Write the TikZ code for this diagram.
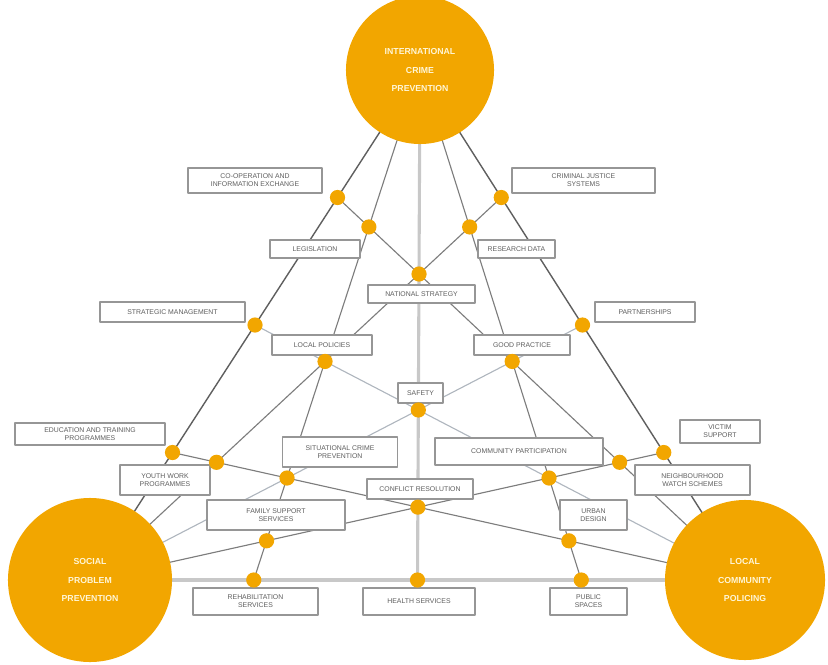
\documentclass[tikz,border=0pt]{standalone}
\usepackage{fontspec}
\setmainfont{Liberation Sans}
\usetikzlibrary{calc}
\definecolor{amber}{RGB}{242,166,0}
\definecolor{boxgray}{RGB}{150,150,150}
\definecolor{labelgray}{RGB}{95,95,95}
\definecolor{darkline}{RGB}{95,95,95}
\definecolor{midline}{RGB}{125,125,125}
\definecolor{lightline}{RGB}{175,182,190}
\definecolor{paleline}{RGB}{200,200,200}
\definecolor{hubtext}{RGB}{255,246,214}
\begin{document}
\begin{tikzpicture}[x=0.025cm,y=-0.025cm, line join=round, line cap=round,
	box/.style={draw=boxgray, line width=0.8pt, fill=white, inner sep=1pt, align=center, text=labelgray, font=\fontsize{4.9}{5.8}\selectfont},
	dot/.style={circle, fill=amber, minimum size=3.8mm, inner sep=0pt},
	hub/.style={circle, fill=amber, inner sep=0pt, text=hubtext, align=center, font=\bfseries\fontsize{6.2}{13}\selectfont},
	side/.style={draw=darkline, line width=1pt},
	cev/.style={draw=midline, line width=0.8pt},
	med/.style={draw=lightline, line width=0.8pt},
	base/.style={draw=paleline, line width=3pt}]
	\useasboundingbox (0,0) rectangle (828,664);
	% corners of the triangle
	\coordinate (T) at (420,70);
	\coordinate (L) at (90,580);
	\coordinate (R) at (745,580);
	% quarter points on the sides
	\coordinate (l1) at ($(T)!0.25!(L)$); \coordinate (l2) at ($(T)!0.5!(L)$); \coordinate (l3) at ($(T)!0.75!(L)$);
	\coordinate (r1) at ($(T)!0.25!(R)$); \coordinate (r2) at ($(T)!0.5!(R)$); \coordinate (r3) at ($(T)!0.75!(R)$);
	\coordinate (b1) at ($(L)!0.25!(R)$); \coordinate (b2) at ($(L)!0.5!(R)$); \coordinate (b3) at ($(L)!0.75!(R)$);
	% crossings inside
	\coordinate (p1) at (intersection of T--b1 and R--l1);
	\coordinate (p2) at (intersection of T--b3 and L--r1);
	\coordinate (p3) at (intersection of T--b2 and L--r1);
	\coordinate (p4) at (intersection of T--b1 and R--l2);
	\coordinate (p5) at (intersection of T--b3 and L--r2);
	\coordinate (p6) at (intersection of L--r2 and R--l2);
	\coordinate (p7) at (intersection of L--r1 and R--l3);
	\coordinate (p8) at (intersection of R--l1 and L--r3);
	\coordinate (p9) at (intersection of T--b1 and L--r2);
	\coordinate (p10) at (intersection of T--b3 and R--l2);
	\coordinate (p11) at (intersection of T--b2 and L--r3);
	\coordinate (p12) at (intersection of T--b1 and L--r3);
	\coordinate (p13) at (intersection of T--b3 and R--l3);
	% lines
	\draw[base] (L) -- (R);
	\draw[base, line width=2.2pt] (T) -- (b2);
	\draw[side] (T) -- (L) (T) -- (R);
	\draw[cev] (T) -- (b1) (T) -- (b3) (L) -- (r1) (L) -- (r3) (R) -- (l1) (R) -- (l3);
	\draw[med] (L) -- (r2) (R) -- (l2);
	% labels
	\node[box, minimum width=33.5mm, minimum height=6.25mm] (coop) at (255,180.5) {CO-OPERATION AND\\INFORMATION EXCHANGE};
	\node[box, minimum width=35.75mm, minimum height=6.25mm] (justice) at (583.5,180.5) {CRIMINAL JUSTICE\\SYSTEMS};
	\node[box, minimum width=22.5mm, minimum height=4.5mm] (law) at (315,249) {LEGISLATION};
	\node[box, minimum width=19.25mm, minimum height=4.5mm] (research) at (516.5,249) {RESEARCH DATA};
	\node[box, minimum width=26.75mm, minimum height=4.5mm] (national) at (421.5,294) {NATIONAL STRATEGY};
	\node[box, minimum width=36.25mm, minimum height=5mm] (manage) at (172.5,312) {STRATEGIC MANAGEMENT};
	\node[box, minimum width=25mm, minimum height=5mm] (partner) at (645,312) {PARTNERSHIPS};
	\node[box, minimum width=25mm, minimum height=5mm] (policy) at (322,345) {LOCAL POLICIES};
	\node[box, minimum width=24mm, minimum height=5mm] (practice) at (522,345) {GOOD PRACTICE};
	\node[box, minimum width=11.25mm, minimum height=5mm] (safety) at (420.5,393) {SAFETY};
	\node[box, minimum width=37.5mm, minimum height=5.5mm] (edu) at (90,434) {EDUCATION AND TRAINING\\PROGRAMMES};
	\node[box, minimum width=20mm, minimum height=5.75mm] (victim) at (720,431.5) {VICTIM\\SUPPORT};
	\node[box, minimum width=22.5mm, minimum height=7.5mm] (youth) at (165,480) {YOUTH WORK\\PROGRAMMES};
	\node[box, minimum width=28.75mm, minimum height=7.5mm] (watch) at (692.5,480) {NEIGHBOURHOOD\\WATCH SCHEMES};
	\node[box, minimum width=28.75mm, minimum height=7.5mm] (situ) at (340,452) {SITUATIONAL CRIME\\PREVENTION};
	\node[box, minimum width=42mm, minimum height=6.75mm] (commun) at (519,451.5) {COMMUNITY PARTICIPATION};
	\node[box, minimum width=26.5mm, minimum height=5mm] (conflict) at (420,489) {CONFLICT RESOLUTION};
	\node[box, minimum width=34.5mm, minimum height=7.5mm] (family) at (276,515) {FAMILY SUPPORT\\SERVICES};
	\node[box, minimum width=16.75mm, minimum height=7.5mm] (urban) at (593.5,515) {URBAN\\DESIGN};
	\node[box, minimum width=31.25mm, minimum height=6.75mm] (rehab) at (255.5,601.5) {REHABILITATION\\SERVICES};
	\node[box, minimum width=28mm, minimum height=6.75mm] (health) at (419,601.5) {HEALTH SERVICES};
	\node[box, minimum width=19.25mm, minimum height=6.75mm] (public) at (588.5,601.5) {PUBLIC\\SPACES};
	% dots
	\foreach \p in {l1,l2,l3,r1,r2,r3,b1,b2,b3,p1,p2,p3,p4,p5,p6,p7,p8,p9,p10,p11,p12,p13}
		\node[dot] (d\p) at (\p) {};
	% the three hubs
	\node[hub, minimum size=37mm] (intl) at (T) {INTERNATIONAL\\CRIME\\PREVENTION};
	\node[hub, minimum size=41mm] (social) at (L) {SOCIAL\\PROBLEM\\PREVENTION};
	\node[hub, minimum size=40mm] (local) at (R) {LOCAL\\COMMUNITY\\POLICING};
\end{tikzpicture}
\end{document}
